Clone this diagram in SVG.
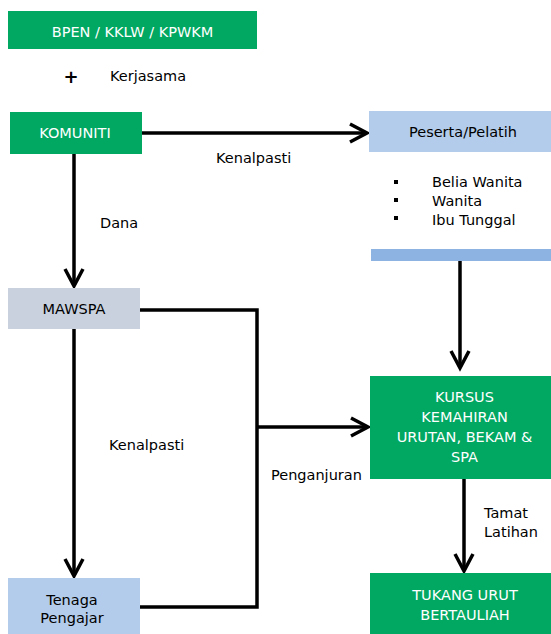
<svg xmlns="http://www.w3.org/2000/svg" width="551" height="634" viewBox="0 0 551 634">
<style>
.g{fill:#00A862}
.b{fill:#B4CCEB}
.t{font-family:"DejaVu Sans",Verdana,sans-serif;font-size:14.5px;fill:#000}
.w{fill:#fff;text-anchor:middle}
.c{text-anchor:middle}
.ln{fill:none;stroke:#000;stroke-width:3.5}
</style>
<defs>
<marker id="ah" markerUnits="userSpaceOnUse" markerWidth="24" markerHeight="24" refX="19" refY="10" orient="auto" viewBox="0 0 24 20" overflow="visible">
<path d="M2,1 L19,10 L2,19" fill="none" stroke="#000" stroke-width="3.5"/>
</marker>
</defs>
<rect width="551" height="634" fill="#fff"/>
<g id="connectors">
<path class="ln" d="M142,133 H367" marker-end="url(#ah)"/>
<path class="ln" d="M74,154 V286" marker-end="url(#ah)"/>
<path class="ln" d="M460,261 V368" marker-end="url(#ah)"/>
<path class="ln" d="M74,328 V576" marker-end="url(#ah)"/>
<path class="ln" d="M140,310 H257 V607 H140"/>
<path class="ln" d="M257,427 H368" marker-end="url(#ah)"/>
<path class="ln" d="M464,479 V571" marker-end="url(#ah)"/>
</g>
<g id="bpen"><rect class="g" x="8" y="11" width="249" height="38"/><text class="t w" x="132.5" y="37">BPEN / KKLW / KPWKM</text></g>
<g id="kerjasama"><text x="71" y="83" style="font-family:'DejaVu Sans',sans-serif;font-size:18px;font-weight:bold" text-anchor="middle">+</text><text class="t" x="110" y="81">Kerjasama</text></g>
<g id="komuniti"><rect class="g" x="10" y="112" width="132" height="42"/><text class="t w" x="75" y="138">KOMUNITI</text></g>
<g id="peserta"><rect class="b" x="369" y="111" width="182" height="41"/><text class="t c" x="463" y="137">Peserta/Pelatih</text>
<rect x="394" y="180" width="4" height="4"/><rect x="394" y="198" width="4" height="4"/><rect x="394" y="216" width="4" height="4"/>
<text class="t" x="432" y="187">Belia Wanita</text><text class="t" x="432" y="206">Wanita</text><text class="t" x="432" y="225">Ibu Tunggal</text>
<rect x="371" y="249" width="180" height="12" fill="#8DB3E2"/></g>
<g id="mawspa"><rect x="8" y="288" width="132" height="41" fill="#C9D1DE"/><text class="t c" x="74" y="314">MAWSPA</text></g>
<g id="kursus"><rect class="g" x="370" y="376" width="181" height="103"/>
<text class="t w" x="464.5" y="402">KURSUS</text><text class="t w" x="464.5" y="422">KEMAHIRAN</text><text class="t w" x="464.5" y="442">URUTAN, BEKAM &amp;</text><text class="t w" x="464.5" y="462">SPA</text></g>
<g id="tenaga"><rect class="b" x="8" y="578" width="132" height="56"/><text class="t c" x="72" y="605">Tenaga</text><text class="t c" x="72" y="623">Pengajar</text></g>
<g id="tukang"><rect class="g" x="370" y="573" width="181" height="61"/><text class="t w" x="465" y="600">TUKANG URUT</text><text class="t w" x="465" y="620">BERTAULIAH</text></g>
<g id="labels">
<text class="t" x="216" y="163">Kenalpasti</text>
<text class="t" x="100" y="228">Dana</text>
<text class="t" x="109" y="450">Kenalpasti</text>
<text class="t" x="271" y="480">Penganjuran</text>
<text class="t" x="484" y="518">Tamat</text>
<text class="t" x="484" y="537">Latihan</text>
</g>
</svg>
